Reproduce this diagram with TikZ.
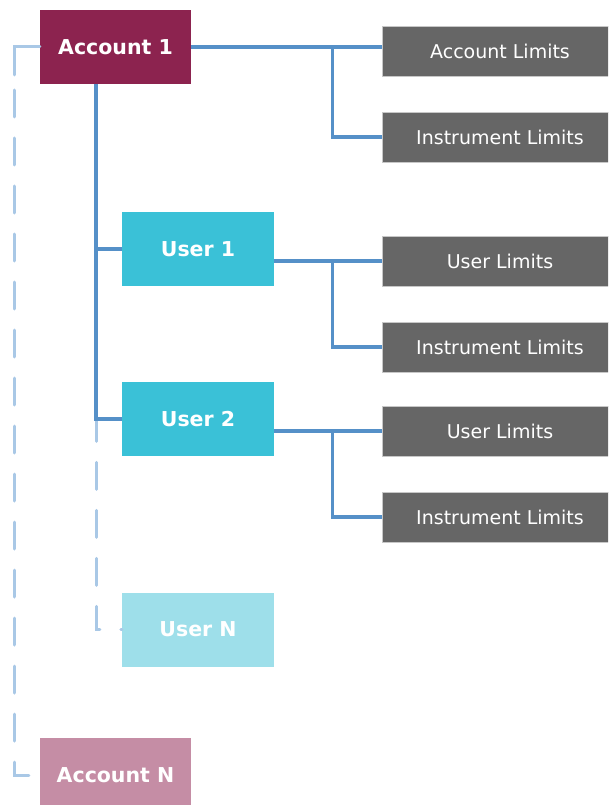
\documentclass[tikz,border=0pt]{standalone}
\usepackage{fontspec}
\setmainfont{DejaVu Sans}
\usepackage{tikz}
\usetikzlibrary{calc}

\definecolor{accdark}{HTML}{8C234F}
\definecolor{acclight}{HTML}{C58DA5}
\definecolor{userdark}{HTML}{3AC1D7}
\definecolor{userlight}{HTML}{9EDFEA}
\definecolor{limitgray}{HTML}{666666}
\definecolor{linkblue}{HTML}{5590C8}
\definecolor{linklight}{HTML}{A9C8E6}

\begin{document}
\begin{tikzpicture}[x = 1pt, y = -1pt]
\tikzstyle{accountStyle}=[shape = rectangle, minimum width = 151pt, minimum height = 74pt, inner sep = 0pt, text = white, font = \bfseries\fontsize{20.5}{24}\selectfont]
\tikzstyle{userStyle}=[shape = rectangle, minimum width = 152pt, minimum height = 74pt, inner sep = 0pt, text = white, font = \bfseries\fontsize{20.5}{24}\selectfont]
\tikzstyle{limitStyle}=[shape = rectangle, minimum width = 236pt, minimum height = 50pt, inner sep = 0pt, fill = limitgray, draw = black!22, line width = 0.8pt, text = white, font = \fontsize{19}{23}\selectfont]
\tikzstyle{linkStyle}=[draw = linkblue, line width = 3.5pt]
\tikzstyle{dashLinkStyle}=[draw = linklight, line width = 3pt, line cap = round, dash pattern = on 27pt off 21pt]
\clip (0,0) rectangle (608,805);
% accounts and users
\node[accountStyle, fill = accdark] (acc1) at (115.5,47) {Account 1};
\node[accountStyle, fill = acclight] (accN) at (115.5,775) {Account N};
\node[userStyle, fill = userdark] (u1) at (198,249) {User 1};
\node[userStyle, fill = userdark] (u2) at (198,419) {User 2};
\node[userStyle, fill = userlight] (uN) at (198,629.5) {User N};
% limits
\node[limitStyle] (al) at (500,51) {Account Limits};
\node[limitStyle] (il1) at (500,137) {Instrument Limits};
\node[limitStyle] (ul1) at (500,261) {User Limits};
\node[limitStyle] (il2) at (500,347) {Instrument Limits};
\node[limitStyle] (ul2) at (500,431) {User Limits};
\node[limitStyle] (il3) at (500,517) {Instrument Limits};
\coordinate (trunk) at ($(acc1.south)+(-19.5,0)$);
\draw[dashLinkStyle, dash phase = 26pt] (uN.west) -| (trunk |- u2.west);
\draw[dashLinkStyle, dash phase = 37pt] (accN.west) -- ++(-25,0) |- (acc1.west);
\draw[dashLinkStyle, solid] (acc1.west) -- ++(-25,0) -- ++(0,28);
\draw[linkStyle] (trunk) |- (u2.west);
\draw[linkStyle] (trunk |- u1.west) -- (u1.west);
\draw[linkStyle] (acc1.east) -- (al.west |- acc1.east);
\draw[linkStyle] ($(al.west |- acc1.east)+(-49,0)$) |- (il1.west);
\draw[linkStyle] (u1.east |- ul1.west) -- (ul1.west);
\draw[linkStyle] ($(ul1.west)+(-49,0)$) |- (il2.west);
\draw[linkStyle] (u2.east |- ul2.west) -- (ul2.west);
\draw[linkStyle] ($(ul2.west)+(-49,0)$) |- (il3.west);
\end{tikzpicture}
\end{document}
